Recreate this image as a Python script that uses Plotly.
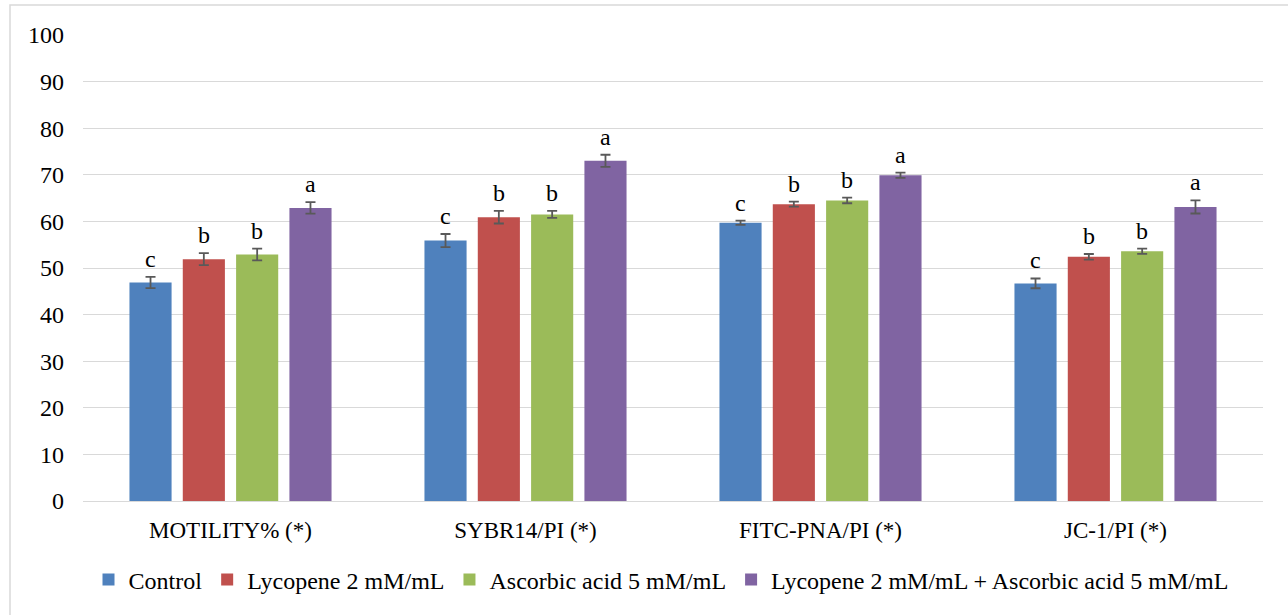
import plotly.graph_objects as go

categories = ["MOTILITY% (*)", "SYBR14/PI (*)", "FITC-PNA/PI (*)", "JC-1/PI (*)"]
series_names = ["Control", "Lycopene 2 mM/mL", "Ascorbic acid 5 mM/mL",
                "Lycopene 2 mM/mL + Ascorbic acid 5 mM/mL"]
control = [46.9, 55.9, 59.7, 46.7]
lycopene = [51.9, 60.9, 63.7, 52.4]
ascorbic = [52.9, 61.5, 64.5, 53.6]
combo = [62.9, 73.0, 69.9, 63.1]
control_err = [1.2, 1.4, 0.45, 1.05]
lycopene_err = [1.3, 1.35, 0.55, 0.6]
ascorbic_err = [1.25, 0.75, 0.6, 0.55]
combo_err = [1.25, 1.3, 0.55, 1.4]
control_lbl = ["c", "c", "c", "c"]
lycopene_lbl = ["b", "b", "b", "b"]
ascorbic_lbl = ["b", "b", "b", "b"]
combo_lbl = ["a", "a", "a", "a"]
colors = ["#4f81bd", "#c0504d", "#9bbb59", "#8064a2"]
y_ticks = [0, 10, 20, 30, 40, 50, 60, 70, 80, 90, 100]

W, H = 1288, 615
L, R, T, B = 83, 25, 35, 114
BARGAP = 0.277
GROUPGAP = 0.21
FONT = "Liberation Serif, Times New Roman, serif"

values = [control, lycopene, ascorbic, combo]
errs = [control_err, lycopene_err, ascorbic_err, combo_err]
labels = [control_lbl, lycopene_lbl, ascorbic_lbl, combo_lbl]

fig = go.Figure()
for name, v, e, c in zip(series_names, values, errs, colors):
    fig.add_trace(go.Bar(
        name=name, x=categories, y=v, marker=dict(color=c, line=dict(width=0)),
        error_y=dict(type="data", array=e, visible=True, color="#595959",
                     thickness=1.8, width=5),
    ))

plot_w = W - L - R
plot_h = H - T - B
cat_w = plot_w / len(categories)
slot = cat_w * (1 - BARGAP) / len(series_names)
annotations = []
for i, (v, e, lb) in enumerate(zip(values, errs, labels)):
    shift = (i - (len(series_names) - 1) / 2) * slot
    for cat, val, er, t in zip(categories, v, e, lb):
        annotations.append(dict(
            x=cat, y=val + er, text=t, showarrow=False, xref="x", yref="y",
            xshift=shift, yshift=3, yanchor="bottom",
            font=dict(family=FONT, size=24, color="#000000"),
        ))

fig.update_layout(
    width=W, height=H,
    margin=dict(l=L, r=R, t=T, b=B),
    paper_bgcolor="white", plot_bgcolor="white",
    barmode="group", bargap=BARGAP, bargroupgap=GROUPGAP,
    font=dict(family=FONT, size=23, color="#000000"),
    showlegend=True,
    legend=dict(orientation="h", x=(661 - L) / plot_w, xanchor="center",
                y=-(580 - (H - B)) / plot_h, yanchor="middle",
                font=dict(family=FONT, size=24), itemwidth=30, traceorder="normal",
                tracegroupgap=0),
    annotations=annotations,
    shapes=[dict(type="rect", xref="paper", yref="paper",
                 x0=(10 - L) / plot_w, x1=(W + 5 - L) / plot_w,
                 y0=(H - B - (H + 5)) / plot_h, y1=(H - B - 5) / plot_h,
                 line=dict(color="#d9d9d9", width=1.5), fillcolor="rgba(0,0,0,0)",
                 layer="below")],
)
fig.update_yaxes(range=[0, 100], tickvals=y_ticks, showgrid=True, gridcolor="#d9d9d9",
                 gridwidth=1.3, zeroline=False, showline=False, ticks="",
                 ticklabelstandoff=18,
                 tickfont=dict(family=FONT, size=24), fixedrange=True)
fig.update_xaxes(showline=True, linecolor="#d9d9d9", linewidth=1.3, ticks="",
                 ticklabelstandoff=8,
                 tickfont=dict(family=FONT, size=23), fixedrange=True)

fig.write_html("out.html", config={"displayModeBar": False},
               post_script="document.body.style.margin='0';document.body.style.padding='0';")
